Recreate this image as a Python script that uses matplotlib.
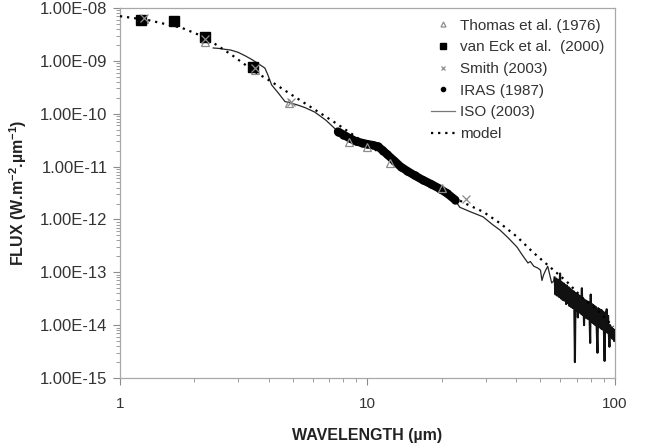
import matplotlib
matplotlib.use("Agg")
import matplotlib.pyplot as plt
from matplotlib.ticker import LogLocator, FixedLocator, NullFormatter

plt.rcParams['font.family'] = ['Liberation Sans', 'DejaVu Sans']
plt.rcParams['mathtext.default'] = 'regular'

# ---- data (wavelength in micron, flux in W m-2 um-1) ----
thomas_wl = [1.25, 2.2, 3.5, 4.8, 8.4, 10.0, 12.3, 20.0]
thomas_fx = [6.3e-9, 2.3e-9, 6.7e-10, 1.6e-10, 2.9e-11, 2.35e-11, 1.17e-11, 3.9e-12]

vaneck_wl = [1.22, 1.65, 2.2, 3.45]
vaneck_fx = [5.9e-9, 5.7e-9, 2.8e-9, 7.7e-10]

smith_wl = [1.25, 2.2, 3.5, 4.9, 25.0]
smith_fx = [6.6e-9, 2.6e-9, 7.4e-10, 1.7e-10, 2.4e-12]

iras_wl = [7.6, 8.0, 8.5, 9.0, 9.5, 10.0, 10.5, 11.0, 11.5, 12.0, 12.8, 13.6,
           14.5, 15.5, 16.7, 18.0, 19.6, 21.0, 22.6]
iras_fx = [4.6e-11, 4.0e-11, 3.4e-11, 3.0e-11, 2.8e-11, 2.65e-11, 2.55e-11, 2.4e-11,
           2.05e-11, 1.7e-11, 1.3e-11, 1.0e-11, 8.2e-12, 6.8e-12, 5.6e-12, 4.7e-12,
           3.8e-12, 3.1e-12, 2.35e-12]

# ISO SWS part
iso_sws_wl = [2.38, 2.5, 2.66, 2.8, 3.0, 3.2, 3.42, 3.6, 3.85, 3.96, 4.1, 4.35, 4.64,
              5.0, 5.24, 5.6, 6.13, 6.8, 7.6, 8.5, 9.5, 11.0, 12.0, 13.6, 16.7, 19.6,
              22.6, 23.6, 26.0, 29.3, 32.0, 34.3, 37.0, 40.2, 42.0, 44.5, 45.5, 47.0,
              48.8, 50.0, 50.7, 51.5, 52.5, 53.5, 54.5, 55.5, 56.5, 57.0]
iso_sws_fx = [1.75e-9, 1.72e-9, 1.65e-9, 1.6e-9, 1.45e-9, 1.25e-9, 1.05e-9, 9.0e-10,
              7.3e-10, 5.4e-10, 3.5e-10, 2.5e-10, 1.7e-10, 1.55e-10, 1.45e-10, 1.3e-10,
              1.07e-10, 7.5e-11, 4.6e-11, 3.3e-11, 2.7e-11, 2.3e-11, 1.65e-11, 1.0e-11,
              5.6e-12, 3.8e-12, 2.3e-12, 1.7e-12, 1.4e-12, 1.12e-12, 8.0e-13, 6.3e-13,
              4.5e-13, 3.0e-13, 2.2e-13, 1.5e-13, 1.6e-13, 1.3e-13, 1.2e-13, 1.1e-13,
              7.0e-14, 9.0e-14, 1.1e-13, 1.3e-13, 9.0e-14, 6.3e-14, 6.8e-14, 8.0e-14]
# ISO LWS part (noisy)
iso_lws_wl = [57.0, 57.5, 58.0, 58.5, 59.0, 59.5, 60.0, 60.5, 61.0, 61.5, 62.0, 62.5,
              63.0, 63.5, 64.0, 64.5, 65.0, 65.5, 66.0, 66.5, 67.0, 67.5, 68.0, 68.5,
              68.9, 69.3, 69.8, 70.3, 70.8, 71.3, 71.8, 72.3, 72.8, 73.5, 74.0, 74.5,
              75.0, 75.5, 76.0, 76.5, 77.0, 77.5, 78.0, 78.5, 79.0, 79.4, 79.8, 80.3,
              80.8, 81.3, 81.8, 82.3, 82.8, 83.3, 83.8, 84.3, 85.0, 85.5, 86.0, 86.5,
              87.0, 87.5, 88.0, 88.5, 89.0, 89.5, 90.2, 90.8, 91.4, 92.0, 92.6, 93.2,
              93.8, 94.4, 95.0, 95.6, 96.3, 97.0, 97.7, 98.4, 99.2, 100.0]
iso_lws_fx = [8.0e-14, 3.8e-14, 7.6e-14, 3.6e-14, 7.2e-14, 3.4e-14, 9.5e-14, 3.2e-14,
              6.5e-14, 3.0e-14, 6.2e-14, 2.9e-14, 5.8e-14, 2.5e-14, 5.6e-14, 2.6e-14,
              5.2e-14, 2.3e-14, 4.9e-14, 2.2e-14, 4.6e-14, 2.1e-14, 4.4e-14, 2.0e-14,
              2.0e-15, 4.1e-14, 1.9e-14, 3.9e-14, 1.4e-14, 3.7e-14, 1.75e-14, 3.5e-14,
              1.65e-14, 5.0e-14, 1.55e-14, 3.2e-14, 1.0e-14, 3.0e-14, 1.4e-14, 2.9e-14,
              1.35e-14, 2.8e-14, 1.3e-14, 2.7e-14, 1.25e-14, 4.6e-15, 3.8e-14, 1.15e-14,
              2.5e-14, 1.1e-14, 2.4e-14, 1.05e-14, 2.3e-14, 1.0e-14, 2.2e-14, 9.8e-15,
              3.0e-15, 2.1e-14, 9.4e-15, 2.0e-14, 9.0e-15, 1.95e-14, 8.6e-15, 1.9e-14,
              8.3e-15, 1.8e-14, 8.0e-15, 2.1e-15, 1.75e-14, 7.6e-15, 2.0e-14, 7.2e-15,
              1.5e-14, 7.0e-15, 3.9e-15, 1.0e-14, 6.0e-15, 9.0e-15, 5.5e-15, 8.5e-15,
              5.0e-15, 8.0e-15]

model_wl = [1.0, 1.3, 1.78, 2.2, 2.83, 3.51, 4.1, 4.95, 5.97, 7.5, 10.0, 15.0,
            20.0, 24.3, 29.3, 34.3, 40.2, 46.6, 54.6, 64.0, 74.3, 87.3, 98.5]
model_fx = [7.0e-9, 5.9e-9, 4.2e-9, 2.8e-9, 1.29e-9, 6.2e-10, 4.0e-10, 2.26e-10,
            1.29e-10, 6.5e-11, 2.6e-11, 7.5e-12, 3.7e-12, 2.1e-12, 1.4e-12, 8.5e-13,
            4.7e-13, 2.4e-13, 1.26e-13, 6.6e-14, 3.2e-14, 1.7e-14, 9.3e-15]

ytick_vals = [1e-15, 1e-14, 1e-13, 1e-12, 1e-11, 1e-10, 1e-9, 1e-8]
ytick_labels = ['1.00E-15', '1.00E-14', '1.00E-13', '1.00E-12',
                '1.00E-11', '1.00E-10', '1.00E-09', '1.00E-08']

fig = plt.figure(figsize=(6.5, 4.43), dpi=100)
ax = fig.add_axes([0.1846, 0.1467, 0.7615, 0.8353])

grey = '#8c8c8c'
ax.plot(iso_sws_wl, iso_sws_fx, color='#262626', lw=0.9, label='ISO (2003)', zorder=3)
ax.plot(iso_lws_wl, iso_lws_fx, color='#111111', lw=1.5, zorder=3)
ax.plot(iras_wl, iras_fx, color='black', lw=6, solid_capstyle='round', zorder=4)
ax.plot(iras_wl, iras_fx, 'o', color='black', ms=5, label='IRAS (1987)', zorder=4)
ax.plot(model_wl, model_fx, color='black', ls=(0, (1, 2.2)), lw=1.6, label='model', zorder=5)
ax.plot(thomas_wl, thomas_fx, '^', mfc='none', mec=grey, ms=6, mew=0.9,
        label='Thomas et al. (1976)', zorder=6)
ax.plot(vaneck_wl, vaneck_fx, 's', color='black', ms=6.5, label='van Eck et al.  (2000)', zorder=6)
ax.plot(smith_wl, smith_fx, 'x', color=grey, ms=6, mew=0.9, label='Smith (2003)', zorder=6)

ax.set_xscale('log')
ax.set_yscale('log')
ax.set_xlim(1, 100)
ax.set_ylim(1e-15, 1e-8)

ax.set_xticks([1, 10, 100])
ax.set_xticklabels(['1', '10', '100'])
ax.xaxis.set_minor_locator(LogLocator(base=10, subs=range(2, 10)))
ax.xaxis.set_minor_formatter(NullFormatter())
ax.yaxis.set_major_locator(FixedLocator(ytick_vals))
ax.set_yticklabels(ytick_labels)
ax.yaxis.set_minor_locator(LogLocator(base=10, subs=range(2, 10), numticks=20))
ax.yaxis.set_minor_formatter(NullFormatter())

ax.tick_params(axis='both', which='major', direction='out', length=5, width=0.8,
               color=grey, labelcolor='#333333')
ax.tick_params(axis='both', which='minor', direction='out', length=3, width=0.6, color=grey)
ax.tick_params(axis='y', which='major', labelsize=12, pad=4)
ax.tick_params(axis='x', which='major', labelsize=11, pad=9)
for s in ax.spines.values():
    s.set_color('#a8a8a8')
    s.set_linewidth(0.9)

ax.set_xlabel('WAVELENGTH (µm)', fontsize=11.5, fontweight='bold', color='#222222', labelpad=12)
ax.set_ylabel('FLUX (W.m$^{-2}$.µm$^{-1}$)', fontsize=11.5, fontweight='bold',
              color='#222222', labelpad=8)

handles, labels = ax.get_legend_handles_labels()
order = ['Thomas et al. (1976)', 'van Eck et al.  (2000)', 'Smith (2003)',
         'IRAS (1987)', 'ISO (2003)', 'model']
hmap = dict(zip(labels, handles))
leg = ax.legend([hmap[k] for k in order], order, loc='upper right', frameon=False,
                fontsize=11, handlelength=1.6, handletextpad=0.3, labelspacing=0.5,
                borderaxespad=0.3, markerscale=0.6, labelcolor='#333333')
leg.legend_handles[4].set_color('#777777')

fig.savefig('out.png', dpi=100)
